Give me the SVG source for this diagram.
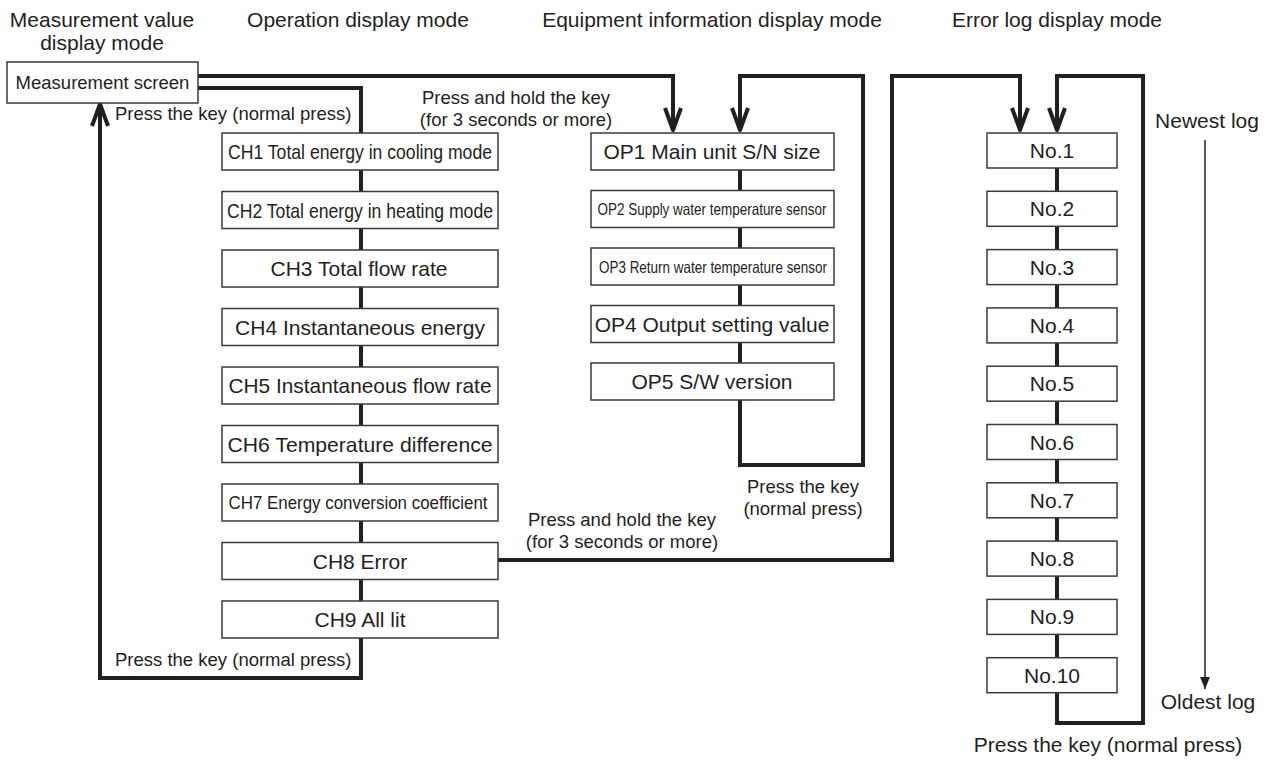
<svg xmlns="http://www.w3.org/2000/svg" width="1272" height="763" viewBox="0 0 1272 763">
<style>
text{font-family:"Liberation Sans",Arial,Helvetica,sans-serif;fill:#231f20}
.h{font-size:21px;text-anchor:middle}
.lbl{font-size:18.5px}
.c{text-anchor:middle}
.bt{font-size:21px;text-anchor:middle}
.box{fill:#fff;stroke:#3a3a3a;stroke-width:1.5}
.con{fill:none;stroke:#231f20;stroke-width:4;stroke-linejoin:miter}
.arr{marker-end:url(#ah)}
.thin{fill:none;stroke:#231f20;stroke-width:1.5}
</style>
<defs>
<marker id="ah" markerUnits="userSpaceOnUse" markerWidth="40" markerHeight="40" viewBox="-30 -20 40 40" refX="0" refY="0" orient="auto" overflow="visible">
<path d="M-22,-8 L0,0 L-22,8" fill="none" stroke="#231f20" stroke-width="4" stroke-linejoin="round" stroke-linecap="butt"/>
</marker>
<marker id="tri" markerUnits="userSpaceOnUse" markerWidth="14" markerHeight="14" viewBox="-13 -6 14 12" refX="0" refY="0" orient="auto">
<path d="M-12,-5 L0,0 L-12,5 Z" fill="#231f20"/>
</marker>
</defs>
<rect width="1272" height="763" fill="#fff"/>

<g id="headers">
<text class="h" x="102" y="27">Measurement value</text>
<text class="h" x="102" y="50">display mode</text>
<text class="h" x="358" y="27">Operation display mode</text>
<text class="h" x="712" y="27">Equipment information display mode</text>
<text class="h" x="1057" y="27">Error log display mode</text>
</g>

<g id="connectors">
<path class="con arr" d="M198,76 H673 V130"/>
<path class="con" d="M198,88 H361 V133"/>
<path class="con" d="M361,170 V191.5 M361,228.5 V250 M361,287 V308.5 M361,345.5 V367 M361,404 V425.5 M361,462.5 V484 M361,521 V542.5 M361,579.5 V601"/>
<path class="con arr" d="M361,638 V678 H100 V104"/>
<path class="con" d="M740,170 V190.5 M740,227.5 V248 M740,285 V305.5 M740,342.5 V363"/>
<path class="con arr" d="M740,400 V465 H863 V76 H740 V130"/>
<path class="con arr" d="M498,560 H892 V76 H1020 V130"/>
<path class="con" d="M1057,168 V191.3 M1057,226.3 V249.6 M1057,284.6 V307.9 M1057,342.9 V366.2 M1057,401.2 V424.5 M1057,459.5 V482.8 M1057,517.8 V541.1 M1057,576.1 V599.4 M1057,634.4 V657.7"/>
<path class="con arr" d="M1057,692.7 V723 H1143 V76 H1057 V130"/>
<path class="thin" marker-end="url(#tri)" d="M1205,140 V689"/>
</g>

<g id="labels">
<text class="lbl" x="115" y="120">Press the key (normal press)</text>
<text class="lbl" x="115" y="666">Press the key (normal press)</text>
<text class="lbl c" x="516" y="104">Press and hold the key</text>
<text class="lbl c" x="516" y="126">(for 3 seconds or more)</text>
<text class="lbl c" x="622" y="526">Press and hold the key</text>
<text class="lbl c" x="622" y="548">(for 3 seconds or more)</text>
<text class="lbl c" x="803" y="493">Press the key</text>
<text class="lbl c" x="803" y="515">(normal press)</text>
<text class="h" x="1207" y="128">Newest log</text>
<text class="h" x="1208" y="709">Oldest log</text>
<text class="h" x="1108" y="752">Press the key (normal press)</text>
</g>

<g id="measurement-screen">
<rect class="box" x="7" y="62" width="191" height="41"/>
<text class="lbl c" x="102.5" y="89">Measurement screen</text>
</g>

<g id="ch1"><rect class="box" x="222" y="133" width="276" height="37"/><text class="bt" x="360" y="159" textLength="264" lengthAdjust="spacingAndGlyphs">CH1 Total energy in cooling mode</text></g>
<g id="ch2"><rect class="box" x="222" y="191.5" width="276" height="37"/><text class="bt" x="360" y="217.5" textLength="266" lengthAdjust="spacingAndGlyphs">CH2 Total energy in heating mode</text></g>
<g id="ch3"><rect class="box" x="222" y="250" width="276" height="37"/><text class="bt" x="359" y="276">CH3 Total flow rate</text></g>
<g id="ch4"><rect class="box" x="222" y="308.5" width="276" height="37"/><text class="bt" x="360" y="334.5">CH4 Instantaneous energy</text></g>
<g id="ch5"><rect class="box" x="222" y="367" width="276" height="37"/><text class="bt" x="360" y="393" textLength="263" lengthAdjust="spacingAndGlyphs">CH5 Instantaneous flow rate</text></g>
<g id="ch6"><rect class="box" x="222" y="425.5" width="276" height="37"/><text class="bt" x="360" y="451.5" textLength="265" lengthAdjust="spacingAndGlyphs">CH6 Temperature difference</text></g>
<g id="ch7"><rect class="box" x="222" y="484" width="276" height="37"/><text class="lbl c" x="358" y="509" textLength="259" lengthAdjust="spacingAndGlyphs">CH7 Energy conversion coefficient</text></g>
<g id="ch8"><rect class="box" x="222" y="542.5" width="276" height="37"/><text class="bt" x="360" y="568.5">CH8 Error</text></g>
<g id="ch9"><rect class="box" x="222" y="601" width="276" height="37"/><text class="bt" x="360" y="627">CH9 All lit</text></g>

<g id="op1"><rect class="box" x="591" y="133" width="243" height="37"/><text class="bt" x="712" y="159">OP1 Main unit S/N size</text></g>
<g id="op2"><rect class="box" x="591" y="190.5" width="243" height="37"/><text class="c" style="font-size:16.5px" x="712" y="215" textLength="229" lengthAdjust="spacingAndGlyphs">OP2 Supply water temperature sensor</text></g>
<g id="op3"><rect class="box" x="591" y="248" width="243" height="37"/><text class="c" style="font-size:16.5px" x="713" y="272.5" textLength="228" lengthAdjust="spacingAndGlyphs">OP3 Return water temperature sensor</text></g>
<g id="op4"><rect class="box" x="591" y="305.5" width="243" height="37"/><text class="bt" x="712" y="331.5">OP4 Output setting value</text></g>
<g id="op5"><rect class="box" x="591" y="363" width="243" height="37"/><text class="bt" x="712" y="389">OP5 S/W version</text></g>

<g id="no1"><rect class="box" x="987" y="133" width="130" height="35"/><text class="bt" x="1052" y="158">No.1</text></g>
<g id="no2"><rect class="box" x="987" y="191.3" width="130" height="35"/><text class="bt" x="1052" y="216.3">No.2</text></g>
<g id="no3"><rect class="box" x="987" y="249.6" width="130" height="35"/><text class="bt" x="1052" y="274.6">No.3</text></g>
<g id="no4"><rect class="box" x="987" y="307.9" width="130" height="35"/><text class="bt" x="1052" y="332.9">No.4</text></g>
<g id="no5"><rect class="box" x="987" y="366.2" width="130" height="35"/><text class="bt" x="1052" y="391.2">No.5</text></g>
<g id="no6"><rect class="box" x="987" y="424.5" width="130" height="35"/><text class="bt" x="1052" y="449.5">No.6</text></g>
<g id="no7"><rect class="box" x="987" y="482.8" width="130" height="35"/><text class="bt" x="1052" y="507.8">No.7</text></g>
<g id="no8"><rect class="box" x="987" y="541.1" width="130" height="35"/><text class="bt" x="1052" y="566.1">No.8</text></g>
<g id="no9"><rect class="box" x="987" y="599.4" width="130" height="35"/><text class="bt" x="1052" y="624.4">No.9</text></g>
<g id="no10"><rect class="box" x="987" y="657.7" width="130" height="35"/><text class="bt" x="1052" y="682.7">No.10</text></g>
</svg>
